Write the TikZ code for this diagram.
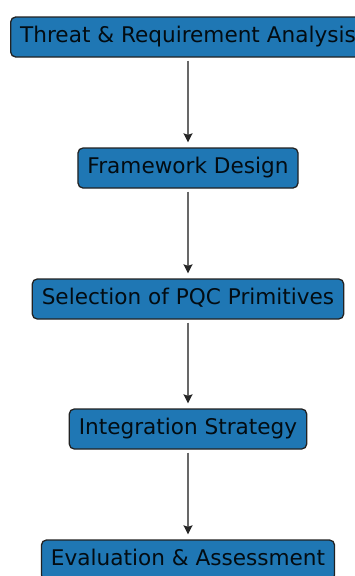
\documentclass[tikz,border=0pt]{standalone}
\usepackage{fontspec}
\setmainfont{DejaVu Sans}
\usetikzlibrary{arrows.meta}
\definecolor{boxblue}{HTML}{1F77B4}
\definecolor{edgegray}{HTML}{222222}
\definecolor{arrowgray}{HTML}{686868}
\begin{document}
\begin{tikzpicture}[x=1pt,y=-1pt,
  stepbox/.style={draw=edgegray, line width=1.3pt, fill=boxblue, rounded corners=5pt,
    minimum height=40pt, inner xsep=9.5pt, inner ysep=0pt,
    text height=16pt, text depth=5pt, font=\fontsize{21.6}{24}\selectfont, text=black!90!boxblue},
  flow/.style={draw=arrowgray, line width=1.6pt, -{Stealth[length=9pt,width=9pt,inset=1.5pt,color=black!85]},
    shorten <=3pt, shorten >=5pt}]
\useasboundingbox (0,0) rectangle (354,576);
\node[stepbox] (a) at (188,37) {Threat \& Requirement Analysis};
\node[stepbox] (b) at (188,168) {Framework Design};
\node[stepbox] (c) at (188,299) {Selection of PQC Primitives};
\node[stepbox] (d) at (188,429) {Integration Strategy};
\node[stepbox] (e) at (188,560) {Evaluation \& Assessment};
\draw[flow] (a) -- (b);
\draw[flow] (b) -- (c);
\draw[flow] (c) -- (d);
\draw[flow] (d) -- (e);
\end{tikzpicture}
\end{document}
